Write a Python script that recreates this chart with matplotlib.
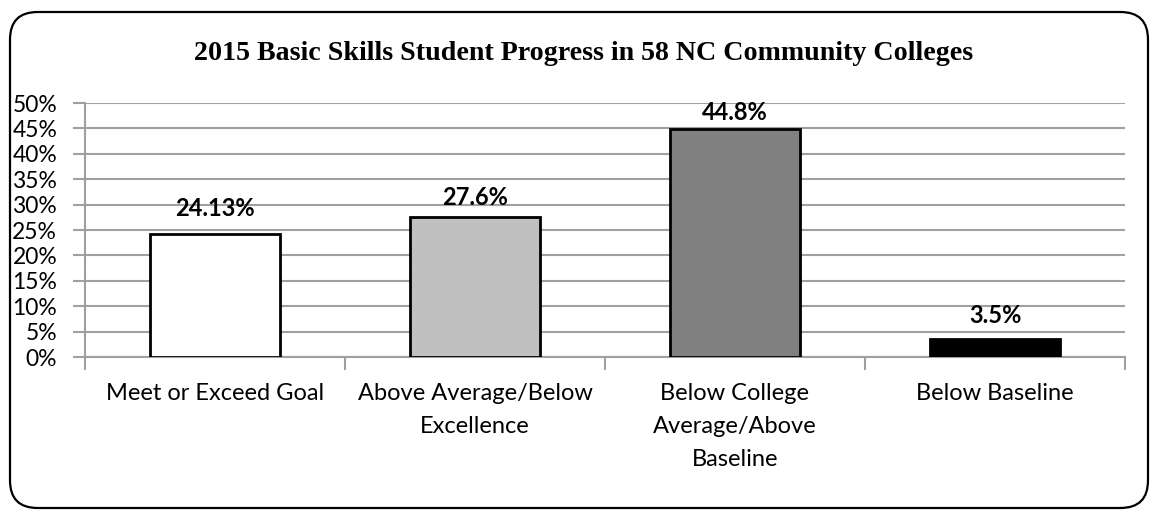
import matplotlib as mpl
mpl.use("agg")
import matplotlib.pyplot as plt
from matplotlib.patches import FancyBboxPatch

categories = ["Meet or Exceed Goal", "Above Average/Below\nExcellence",
              "Below College\nAverage/Above\nBaseline", "Below Baseline"]
values = [24.13, 27.6, 44.8, 3.5]
value_labels = ["24.13%", "27.6%", "44.8%", "3.5%"]
bar_colors = ["#ffffff", "#c0c0c0", "#808080", "#000000"]
label_offsets = [19, 14, 12, 17]  # points above bar top

plt.rcParams['font.family'] = ['Lato', 'DejaVu Sans']

fig = plt.figure(figsize=(11.51, 5.11), dpi=100)
W, H = 1151, 511

# rounded chart border
border = FancyBboxPatch((10 / W, 1 - 508 / H), 1138 / W, 496 / H,
                        boxstyle="round,pad=0,rounding_size=0.024",
                        transform=fig.transFigure, facecolor="none",
                        edgecolor="black", linewidth=1.6, zorder=5,
                        mutation_aspect=W / H)
fig.patches.append(border)

ax = fig.add_axes([85 / W, 1 - 357 / H, (1125 - 85) / W, (357 - 103) / H])
ax.set_facecolor("none")

x = range(len(values))
ax.bar(x, values, width=0.5, color=bar_colors, edgecolor="black",
       linewidth=2, zorder=3)

for i, v in enumerate(values):
    ax.annotate(value_labels[i], (i, v), xytext=(0, label_offsets[i]),
                textcoords="offset points", ha="center", va="center",
                fontsize=17, fontweight="bold", zorder=4)

ax.set_xlim(-0.5, len(values) - 0.5)
ax.set_ylim(0, 50)
ax.set_yticks(range(0, 55, 5))
ax.set_yticklabels([f"{t}%" for t in range(0, 55, 5)], fontsize=16.5)
ax.yaxis.grid(True, color="#a0a0a0", linewidth=1.5, zorder=0)

# category ticks on the boundaries, labels in the middle
ax.set_xticks([i - 0.5 for i in range(len(values) + 1)])
ax.set_xticklabels([])
ax.set_xticks(list(x), minor=True)
ax.set_xticklabels(categories, minor=True, fontsize=17, linespacing=1.68,
                   va="top")
ax.tick_params(axis="x", which="minor", length=0, pad=19)
ax.tick_params(axis="x", which="major", length=9, width=1.5, color="#a0a0a0")
ax.tick_params(axis="y", length=9, width=1.5, color="#a0a0a0", pad=11)

for side in ["top", "right"]:
    ax.spines[side].set_visible(False)
ax.spines["left"].set_color("#a0a0a0")
ax.spines["left"].set_linewidth(1.5)
ax.spines["bottom"].set_color("#a0a0a0")
ax.spines["bottom"].set_linewidth(1.5)

fig.text(584 / W, 1 - 54 / H,
         "2015 Basic Skills Student Progress in 58 NC Community Colleges",
         ha="center", va="center", fontsize=20.2, fontweight="bold",
         family=["Liberation Serif", "DejaVu Serif"])

fig.savefig("out.png", dpi=100)
